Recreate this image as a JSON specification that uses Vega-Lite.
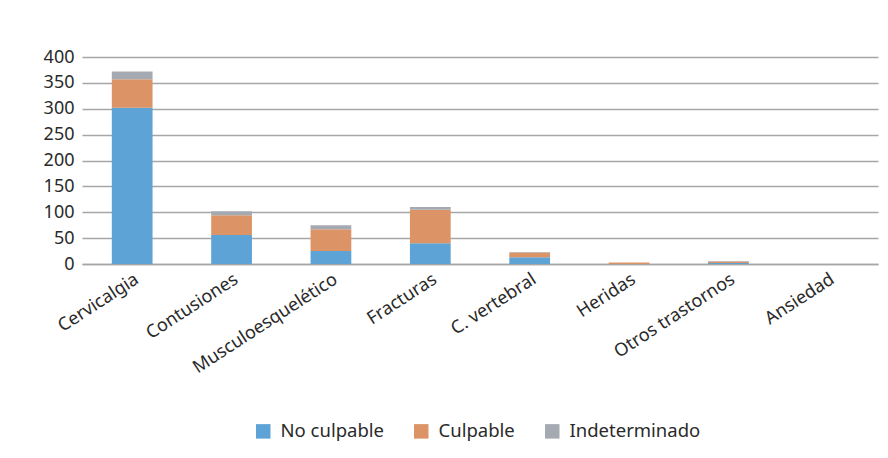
{
  "$schema": "https://vega.github.io/schema/vega-lite/v6.json",
  "autosize": {"type": "none"},
  "width": 796,
  "height": 207,
  "padding": {"left": 82, "top": 57, "right": 10, "bottom": 194},
  "background": "white",
  "data": {"values": [
    {"cat": "Cervicalgia", "tipo": "No culpable", "n": 302, "o": 1},
    {"cat": "Cervicalgia", "tipo": "Culpable", "n": 55, "o": 2},
    {"cat": "Cervicalgia", "tipo": "Indeterminado", "n": 15, "o": 3},
    {"cat": "Contusiones", "tipo": "No culpable", "n": 56, "o": 1},
    {"cat": "Contusiones", "tipo": "Culpable", "n": 38, "o": 2},
    {"cat": "Contusiones", "tipo": "Indeterminado", "n": 8, "o": 3},
    {"cat": "Musculoesquelético", "tipo": "No culpable", "n": 25, "o": 1},
    {"cat": "Musculoesquelético", "tipo": "Culpable", "n": 42, "o": 2},
    {"cat": "Musculoesquelético", "tipo": "Indeterminado", "n": 8, "o": 3},
    {"cat": "Fracturas", "tipo": "No culpable", "n": 40, "o": 1},
    {"cat": "Fracturas", "tipo": "Culpable", "n": 65, "o": 2},
    {"cat": "Fracturas", "tipo": "Indeterminado", "n": 5, "o": 3},
    {"cat": "C. vertebral", "tipo": "No culpable", "n": 13, "o": 1},
    {"cat": "C. vertebral", "tipo": "Culpable", "n": 9, "o": 2},
    {"cat": "C. vertebral", "tipo": "Indeterminado", "n": 1, "o": 3},
    {"cat": "Heridas", "tipo": "No culpable", "n": 0, "o": 1},
    {"cat": "Heridas", "tipo": "Culpable", "n": 3, "o": 2},
    {"cat": "Heridas", "tipo": "Indeterminado", "n": 0, "o": 3},
    {"cat": "Otros trastornos", "tipo": "No culpable", "n": 2, "o": 1},
    {"cat": "Otros trastornos", "tipo": "Culpable", "n": 3, "o": 2},
    {"cat": "Otros trastornos", "tipo": "Indeterminado", "n": 1, "o": 3},
    {"cat": "Ansiedad", "tipo": "No culpable", "n": 0, "o": 1},
    {"cat": "Ansiedad", "tipo": "Culpable", "n": 0, "o": 2},
    {"cat": "Ansiedad", "tipo": "Indeterminado", "n": 0, "o": 3}
  ]},
  "mark": {"type": "bar"},
  "encoding": {
    "x": {
      "field": "cat", "type": "nominal", "sort": null, "title": null,
      "scale": {"paddingInner": 0.59, "paddingOuter": 0.3},
      "axis": {"labelAngle": -33, "labelFontSize": 18, "labelFont": "Noto Sans", "labelColor": "#2a2a2a", "ticks": false, "domainColor": "#a6a6a6", "domainWidth": 1.5, "labelPadding": 6}
    },
    "y": {
      "field": "n", "type": "quantitative", "title": null, "stack": "zero",
      "scale": {"domain": [0, 400]},
      "axis": {"values": [0, 50, 100, 150, 200, 250, 300, 350, 400], "labelFontSize": 18, "labelFont": "Noto Sans", "labelColor": "#2a2a2a", "ticks": false, "domain": false, "gridColor": "#a6a6a6", "gridWidth": 1.5, "labelPadding": 8}
    },
    "color": {
      "field": "tipo", "type": "nominal", "title": null,
      "scale": {"domain": ["No culpable", "Culpable", "Indeterminado"], "range": ["#5ea3d6", "#dc9466", "#a5aab2"]},
      "legend": {"orient": "none", "legendX": 172, "legendY": 365, "direction": "horizontal", "columns": 3, "symbolType": "square", "symbolSize": 210, "symbolStrokeWidth": 0, "labelFontSize": 18.5, "labelFont": "Noto Sans", "labelColor": "#2a2a2a", "labelOffset": 8, "columnPadding": 28}
    },
    "order": {"field": "o", "type": "quantitative"}
  },
  "config": {"view": {"stroke": null}}
}
